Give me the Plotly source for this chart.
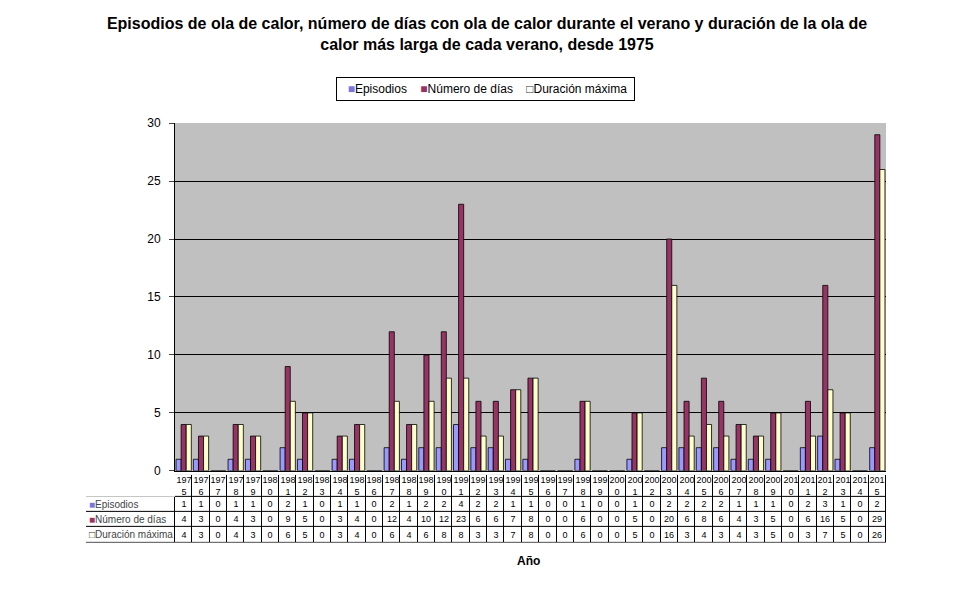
import plotly.graph_objects as go

years = list(range(1975, 2016))
episodios = [1, 1, 0, 1, 1, 0, 2, 1, 0, 1,
             1, 0, 2, 1, 2, 2, 4, 2, 2, 1,
             1, 0, 0, 1, 0, 0, 1, 0, 2, 2,
             2, 2, 1, 1, 1, 0, 2, 3, 1, 0, 2]
num_dias = [4, 3, 0, 4, 3, 0, 9, 5, 0, 3,
            4, 0, 12, 4, 10, 12, 23, 6, 6, 7,
            8, 0, 0, 6, 0, 0, 5, 0, 20, 6,
            8, 6, 4, 3, 5, 0, 6, 16, 5, 0, 29]
duracion = [4, 3, 0, 4, 3, 0, 6, 5, 0, 3,
            4, 0, 6, 4, 6, 8, 8, 3, 3, 7,
            8, 0, 0, 6, 0, 0, 5, 0, 16, 3,
            4, 3, 4, 3, 5, 0, 3, 7, 5, 0, 26]

names = ["Episodios", "Número de días", "Duración máxima"]
colors = ["#9999FF", "#993366", "#FFFFCC"]
marks = ["<span style='color:#7777DD'>■</span>",
         "<span style='color:#993366'>■</span>",
         "<span style='color:#333333'>□</span>"]

W, H = 967, 590
font = "Liberation Sans, Arial, sans-serif"
n = len(years)
nb = "\u00a0"


# page offsets seen in the rendered picture
def px_x(v):
    return (v - 8) / W


def px_y(v):
    return 1 - ((v - 14.8) / 0.977) / H


plot_l, plot_r, plot_t, plot_b = 175, 886, 123, 471
tab_l, tab_t = 86, 475
row_h = [16, 15, 15, 22]          # Duración, Número, Episodios, header (bottom -> top)
unit = (plot_r - plot_l) / n
label_w = (plot_l - tab_l) / unit

fig = go.Figure()
for name, vals, col in zip(names, [episodios, num_dias, duracion], colors):
    fig.add_trace(go.Bar(
        x=list(range(n)), y=vals, name=name,
        marker=dict(color=col, line=dict(color="black", width=0.8)),
        hoverinfo="x+y",
    ))

# data table drawn as a white heatmap with gaps over a black background
y_edges = [0]
for h in row_h:
    y_edges.append(y_edges[-1] + h)
x_edges = [-0.5 - label_w] + [i - 0.5 for i in range(n + 1)]
header = [str(y)[:3] + "<br>" + str(y)[3:] for y in years]
text = [[""] + duracion, [""] + num_dias, [""] + episodios, [""] + header]
z = [[0] * (n + 1) for _ in range(3)] + [[None] + [0] * n]

fig.add_trace(go.Heatmap(
    x=x_edges, y=y_edges, z=z, text=text, texttemplate="%{text}",
    textfont=dict(family=font, size=9, color="black"),
    colorscale=[[0, "white"], [1, "white"]], showscale=False,
    xgap=1, ygap=1, hoverinfo="skip",
    xaxis="x2", yaxis="y2",
))

row_mid = [(y_edges[i] + y_edges[i + 1]) / 2 for i in range(3)]
row_labels = [m + nm for m, nm in zip(marks, names)][::-1]
legend_text = nb * 2 + (nb * 4).join(m + nm for m, nm in zip(marks, names)) + nb

fig.update_layout(
    width=W, height=H,
    margin=dict(l=0, r=0, t=0, b=0),
    paper_bgcolor="white",
    plot_bgcolor="white",
    font=dict(family=font, size=12, color="black"),
    title=dict(
        text="<b>Episodios de ola de calor, número de días con ola de calor durante el verano y duración de la ola de<br>calor más larga de cada verano, desde 1975</b>",
        x=px_x(487), xanchor="center", y=1 - 21 / H, yanchor="top",
        font=dict(size=16, family=font),
    ),
    barmode="group", bargap=0.12, bargroupgap=0,
    showlegend=False,
    xaxis=dict(domain=[px_x(plot_l), px_x(plot_r)], range=[-0.5, n - 0.5],
               showticklabels=False, showgrid=False, ticks="",
               showline=True, linecolor="black", zeroline=False),
    yaxis=dict(domain=[px_y(plot_b), px_y(plot_t)], range=[0, 30], dtick=5,
               showgrid=True, gridcolor="black", gridwidth=1,
               showline=True, linecolor="black", ticks="outside", ticklen=5,
               ticklabelstandoff=6, tickfont=dict(size=12), zeroline=False),
    xaxis2=dict(domain=[px_x(tab_l), px_x(plot_r)], range=[x_edges[0], n - 0.5],
                visible=False, anchor="y2"),
    yaxis2=dict(domain=[px_y(tab_t + y_edges[-1]), px_y(tab_t)], range=[0, y_edges[-1]],
                anchor="x2", showgrid=False, zeroline=False, showline=False, ticks="",
                tickvals=row_mid, ticktext=row_labels, ticklabelposition="inside",
                tickfont=dict(size=10)),
    shapes=[
        dict(type="rect", xref="x domain", yref="y domain", x0=0, x1=1, y0=0, y1=1,
             fillcolor="#C0C0C0", line=dict(width=0), layer="below"),
        dict(type="rect", xref="x2", yref="y2", x0=-0.5, x1=n - 0.5, y0=0, y1=y_edges[-1],
             fillcolor="black", line=dict(width=0), layer="below"),
        dict(type="rect", xref="x2", yref="y2", x0=x_edges[0], x1=-0.5, y0=0, y1=y_edges[3],
             fillcolor="black", line=dict(width=0), layer="below"),
    ],
    annotations=[
        dict(text=legend_text, x=px_x(485), y=px_y(89), xref="paper", yref="paper",
             xanchor="center", yanchor="middle", showarrow=False, font=dict(size=12),
             bordercolor="black", borderwidth=1, borderpad=4, bgcolor="white"),
        dict(text="<b>Año</b>", x=px_x(528), y=px_y(570), xref="paper", yref="paper",
             showarrow=False, font=dict(size=12)),
    ],
)

fig.write_html("out.html")
